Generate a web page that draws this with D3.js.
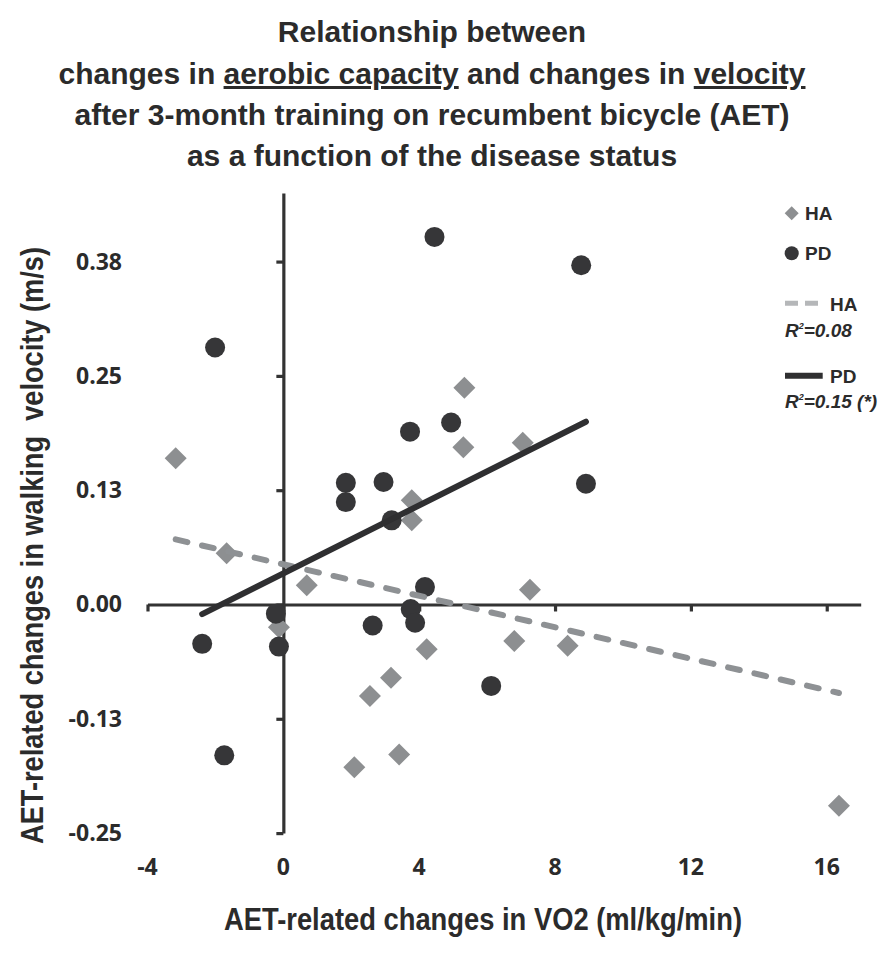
<!DOCTYPE html>
<html>
<head>
<meta charset="utf-8">
<script src="https://cdn.jsdelivr.net/npm/d3@7"></script>
<style>
  body { margin: 0; background: #fff; }
  text { fill: #2b2b2b; }
</style>
</head>
<body>
<svg id="chart" width="894" height="953"></svg>
<script>
// healthy adults (HA) - change in VO2 vs change in walking velocity
var haX = [-3.17, -1.67, 5.33, 5.30, 3.78, 3.78, 0.69, 7.05, 7.26, -0.13, 4.22, 3.17, 2.55, 3.41, 2.09, 6.80, 8.37, 16.36];
var haY = [0.160, 0.056, 0.237, 0.172, 0.114, 0.092, 0.021, 0.177, 0.016, -0.025, -0.049, -0.080, -0.100, -0.164, -0.178, -0.040, -0.045, -0.220];

// Parkinson's disease (PD)
var pdX = [4.45, -2.01, 3.73, 4.94, 1.84, 1.84, 2.95, 3.19, 4.17, 8.77, 8.91, -0.22, -0.13, -2.39, -1.74, 2.63, 3.75, 3.88, 6.12];
var pdY = [0.402, 0.281, 0.189, 0.199, 0.133, 0.112, 0.134, 0.092, 0.019, 0.371, 0.132, -0.010, -0.046, -0.043, -0.165, -0.023, -0.005, -0.020, -0.089];

var xTicks = [-4, 0, 4, 8, 12, 16];
var yTicks = [-0.25, -0.125, 0, 0.125, 0.25, 0.375];

var titleLines = [
  [{t: "Relationship between"}],
  [{t: "changes in "}, {t: "aerobic capacity", u: true}, {t: " and changes in "}, {t: "velocity", u: true}],
  [{t: "after 3-month training on recumbent bicycle (AET)"}],
  [{t: "as a function of the disease status"}]
];
var xTitle = "AET-related changes in VO2 (ml/kg/min)";
var yTitle = "AET-related changes in walking  velocity (m/s)";

var svg = d3.select("#chart");

var x = d3.scaleLinear().domain([-4, 17]).range([147.5, 860.7]);
var y = d3.scaleLinear().domain([-0.25, 0.45]).range([833.1, 193]);

function fmt(v) {
  return (v < 0 ? "-" : "") + Math.abs(v).toFixed(2);
}

// least squares line, drawn over the range of the series
function trend(xs, ys) {
  var mx = d3.mean(xs), my = d3.mean(ys);
  var sxy = d3.sum(xs, (v, i) => (v - mx) * (ys[i] - my));
  var sxx = d3.sum(xs, v => (v - mx) * (v - mx));
  var b = sxy / sxx, a = my - b * mx;
  var ext = d3.extent(xs);
  return ext.map(v => [v, a + b * v]);
}

// title
var title = svg.append("text")
  .attr("text-anchor", "middle")
  .style("font-family", "'Liberation Sans', Arial, sans-serif")
  .style("font-weight", "bold")
  .style("font-size", "30px");
var baselines = [42, 84, 125, 166];
titleLines.forEach((line, li) => {
  line.forEach((part, pi) => {
    let ts = title.append("tspan").text(part.t).style("white-space", "pre");
    if (pi == 0) ts.attr("x", 432).attr("y", baselines[li]);
    if (part.u) ts.style("text-decoration", "underline");
  });
});

// axes (crossing at zero)
var xAxis = svg.append("g")
  .attr("transform", "translate(0," + y(0) + ")")
  .call(d3.axisBottom(x).tickValues(xTicks).tickSize(7).tickSizeOuter(0).tickFormat(""));
var yAxis = svg.append("g")
  .attr("transform", "translate(" + x(0) + ",0)")
  .call(d3.axisLeft(y).tickValues(yTicks).tickSize(7).tickSizeOuter(0).tickFormat(""));
[xAxis, yAxis].forEach(g => {
  g.selectAll("path, line").attr("stroke", "#333").attr("stroke-width", 3.2);
});

// tick labels sit at the edges of the plot, not on the axes
svg.append("g").selectAll("text")
  .data(yTicks)
  .join("text")
  .attr("x", 122)
  .attr("y", d => y(d) + 8)
  .attr("text-anchor", "end")
  .style("font-family", "'Open Sans', sans-serif")
  .style("font-weight", "bold")
  .style("font-size", "23px")
  .text(fmt);

svg.append("g").selectAll("text")
  .data(xTicks)
  .join("text")
  .attr("x", d => x(d))
  .attr("y", 875)
  .attr("text-anchor", "middle")
  .style("font-family", "'Open Sans', sans-serif")
  .style("font-weight", "bold")
  .style("font-size", "23px")
  .text(d => d);

// axis titles, squeezed to the narrow look of the original
svg.append("text")
  .attr("x", 224)
  .attr("y", 930)
  .attr("textLength", 518)
  .attr("lengthAdjust", "spacingAndGlyphs")
  .style("font-family", "'Liberation Sans', Arial, sans-serif")
  .style("font-weight", "bold")
  .style("font-size", "32px")
  .text(xTitle);

svg.append("text")
  .attr("transform", "translate(43,844) rotate(-90)")
  .attr("textLength", 597)
  .attr("lengthAdjust", "spacingAndGlyphs")
  .style("font-family", "'Liberation Sans', Arial, sans-serif")
  .style("font-weight", "bold")
  .style("font-size", "32px")
  .style("white-space", "pre")
  .text(yTitle);

// markers
var diamond = d3.symbol().type(d3.symbolSquare).size(242);
svg.append("g").selectAll("path")
  .data(haX.map((v, i) => [v, haY[i]]))
  .join("path")
  .attr("d", diamond)
  .attr("transform", d => "translate(" + x(d[0]) + "," + y(d[1]) + ") rotate(45)")
  .attr("fill", "#8d8f91");

svg.append("g").selectAll("circle")
  .data(pdX.map((v, i) => [v, pdY[i]]))
  .join("circle")
  .attr("cx", d => x(d[0]))
  .attr("cy", d => y(d[1]))
  .attr("r", 10)
  .attr("fill", "#363638");

// trend lines
var line = d3.line().x(d => x(d[0])).y(d => y(d[1]));
svg.append("path")
  .attr("d", line(trend(haX, haY)))
  .attr("fill", "none")
  .attr("stroke", "#8e9194")
  .attr("stroke-width", 6)
  .attr("stroke-linecap", "round")
  .attr("stroke-dasharray", "12,15");
svg.append("path")
  .attr("d", line(trend(pdX, pdY)))
  .attr("fill", "none")
  .attr("stroke", "#2f2f31")
  .attr("stroke-width", 6)
  .attr("stroke-linecap", "round");

// legend
var legend = svg.append("g")
  .style("font-family", "'Liberation Sans', Arial, sans-serif")
  .style("font-weight", "bold")
  .style("font-size", "19px");

legend.append("path")
  .attr("d", d3.symbol().type(d3.symbolSquare).size(98))
  .attr("transform", "translate(791.7,213.3) rotate(45)")
  .attr("fill", "#8d8f91");
legend.append("text").attr("x", 805).attr("y", 220).text("HA");

legend.append("circle").attr("cx", 791.7).attr("cy", 253.3).attr("r", 7).attr("fill", "#363638");
legend.append("text").attr("x", 805).attr("y", 260).text("PD");

legend.append("line")
  .attr("x1", 785).attr("x2", 819).attr("y1", 303.3).attr("y2", 303.3)
  .attr("stroke", "#b5b7b9").attr("stroke-width", 5)
  .attr("stroke-dasharray", "13,7");
legend.append("text").attr("x", 830).attr("y", 310.7).text("HA");
var r1 = legend.append("text").attr("x", 785).attr("y", 337).style("font-style", "italic");
r1.append("tspan").text("R");
r1.append("tspan").attr("dy", -8).style("font-size", "9px").text("2");
r1.append("tspan").attr("dy", 8).text("=0.08");

legend.append("line")
  .attr("x1", 785).attr("x2", 822.7).attr("y1", 375.7).attr("y2", 375.7)
  .attr("stroke", "#2f2f31").attr("stroke-width", 6);
legend.append("text").attr("x", 830).attr("y", 383).text("PD");
var r2 = legend.append("text").attr("x", 785).attr("y", 408).style("font-style", "italic").style("white-space", "pre");
r2.append("tspan").text("R");
r2.append("tspan").attr("dy", -8).style("font-size", "9px").text("2");
r2.append("tspan").attr("dy", 8).text("=0.15 (*)");
</script>
</body>
</html>
